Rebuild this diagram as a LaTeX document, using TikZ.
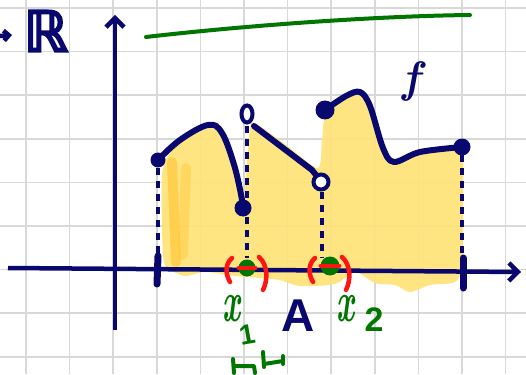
\documentclass[tikz,border=0pt]{standalone}
\usepackage{fontspec}
\newfontfamily\dv[FakeBold=4]{DejaVu Sans}
\newfontfamily\ls{Liberation Sans}
\usetikzlibrary{arrows.meta,shapes.geometric}
\definecolor{navy}{RGB}{8,8,110}
\definecolor{grn}{RGB}{0,118,0}
\definecolor{rd}{RGB}{255,20,20}
\definecolor{hl}{RGB}{255,226,120}
\definecolor{hlo}{RGB}{255,196,45}
\definecolor{gridc}{RGB}{216,216,216}
\begin{document}
\begin{tikzpicture}[x=1pt,y=-1pt,
  gridline/.style={gridc,line width=1.6pt},
  pen/.style={navy,line width=6pt,line cap=round,line join=round},
  dashv/.style={navy,line width=3.5pt,dash pattern=on 7pt off 6pt},
  tickm/.style={navy,line width=7pt,line cap=round},
  axis/.style={navy,line width=4.5pt,-{Straight Barb[length=9pt,width=18pt,line width=4.5pt]}},
  dotf/.style={circle,fill=navy,inner sep=0pt,minimum size=#1},
  gdot/.style={circle,fill=grn,inner sep=0pt,minimum size=#1},
  paren/.style={rd,line width=4.5pt,line cap=round},
  glab/.style={text=grn,inner sep=0pt},
  gpen/.style={grn,line width=4pt,line cap=round,line join=round}]
\useasboundingbox (0,0) rectangle (526,374);
\fill[white] (0,0) rectangle (526,374);
% grid
\foreach \x in {26,69.6,113.2,156.8,200.4,244,287.6,331.2,374.8,418.4,462,505.6}
  \draw[gridline] (\x,0) -- (\x,374);
\foreach \y in {8,51.6,95.2,138.8,182.4,226,269.6,313.2,356.8}
  \draw[gridline] (0,\y) -- (526,\y);
% highlight
\fill[hl,opacity=0.92] plot[smooth cycle,tension=0.45] coordinates {
 (163,255) (162,175) (172,150) (195,134) (212,128) (225,140) (236,172) (244,196)
 (250,128) (258,125) (290,148) (318,168) (322,140) (326,112) (345,98) (360,96)
 (372,112) (385,150) (393,160) (420,152) (460,148) (463,200) (462,265) (455,282)
 (430,285) (410,292) (395,285) (375,283) (355,272) (335,284) (300,286) (280,280)
 (260,278) (235,276) (205,272) (185,276) (168,268)};
\draw[hlo,opacity=0.6,line width=10pt,line cap=round] (172,162) -- (176,262);
\draw[hlo,opacity=0.4,line width=10pt,line cap=round] (186,168) -- (183,255);
% green line
\draw[grn,line width=4pt,line cap=round] (146,37) .. controls (250,25) and (380,16) .. (470,15);
% labels top
\node[text=navy,inner sep=0pt,font=\dv\fontsize{56}{56}\selectfont] (R) at (46,31) {ℝ};
\coordinate (arrS) at (-12,37);
\coordinate (arrE) at (12,35);
\draw[navy,line width=4.5pt,-{Straight Barb[length=5pt,width=10pt,line width=4.5pt]}] (arrS) -- (arrE);
\node[text=navy,inner sep=0pt,font=\bfseries\itshape\fontsize{44}{44}\selectfont] (flab) at (411,82) {f};
% axes
\coordinate (yb) at (115,330);
\coordinate (yt) at (115,15);
\coordinate (xl) at (8,268);
\coordinate (xr) at (521,272);
\draw[axis] (yb) -- (yt);
\draw[axis] (xl) -- (xr);
% dashed verticals
\draw[dashv] (158,168) -- (158,255);
\draw[dashv] (247,126) -- (247,258);
\draw[dashv] (322,192) -- (322,258);
\draw[dashv] (462,155) -- (462,255);
% ticks
\draw[tickm] (158,256) -- (157,284);
\draw[tickm] (463,258) -- (463,288);
% graph of f
\draw[pen] plot[smooth,tension=0.6] coordinates {(158,160) (180,140) (208,125) (222,133) (235,168) (243,205)};
\draw[pen] (254,126) -- (312,170) -- (320,180);
\draw[pen] plot[smooth,tension=0.55] coordinates {(325,110) (346,96) (360,92) (370,106) (383,148) (394,162) (420,152) (462,147)};
\node[dotf=15pt] (p1) at (158,160) {};
\node[dotf=17pt] (p2) at (243,208) {};
\node[dotf=19pt] (p3) at (325,110) {};
\node[dotf=17pt] (p4) at (462,147) {};
\node[ellipse,draw=navy,line width=4pt,fill=white,inner sep=0pt,minimum width=11pt,minimum height=17pt] (o1) at (247,114) {};
\node[circle,draw=navy,line width=4pt,fill=white,inner sep=0pt,minimum size=15pt] (o2) at (321,182) {};
% points on axis
\node[gdot=17pt] (g1) at (247,268) {};
\node[gdot=19pt] (g2) at (330,266) {};
\draw[paren] (232,258) .. controls (224,265) and (226,275) .. (230,282);
\draw[paren] (259,257) .. controls (268,265) and (268,280) .. (263,290);
\draw[rd,line width=3.5pt,line cap=round] (g1.west) -- (g1.east);
\draw[paren] (315,258) .. controls (307,265) and (309,275) .. (313,282);
\draw[paren] (342,257) .. controls (351,265) and (351,280) .. (346,290);
\draw[rd,line width=3.5pt,line cap=round] (g2.west) -- (g2.east);
% bottom labels
\node[glab,font=\bfseries\itshape\fontsize{58}{58}\selectfont,xscale=0.55] (x1) at (231,309) {x};
\node[glab,font=\ls\bfseries\fontsize{28}{28}\selectfont,rotate=10] (s1) at (247,335) {1};
\node[text=navy,inner sep=0pt,font=\ls\bfseries\fontsize{46}{46}\selectfont] (A) at (298,316) {A};
\node[glab,font=\bfseries\itshape\fontsize{58}{58}\selectfont,xscale=0.55] (x2) at (345,309) {x};
\node[glab,font=\ls\bfseries\fontsize{34}{34}\selectfont] (s2) at (374,320) {2};
% small interval sign
\draw[gpen] (233,359) -- (234,373);
\draw[gpen] (234,366) -- (254,366) -- (255,373);
\draw[gpen] (263,352) -- (264,367);
\draw[gpen] (264,364) -- (283,361);
\draw[gpen] (283,356) -- (283,364);
\end{tikzpicture}
\end{document}
